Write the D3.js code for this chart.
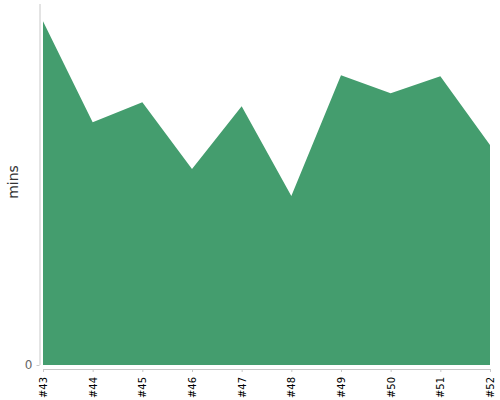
<!DOCTYPE html>
<html>
<head>
<meta charset="utf-8">
<script src="https://cdn.jsdelivr.net/npm/d3@7"></script>
<style>
  body { margin: 0; background: #fff; }
  text { font-family: "DejaVu Sans", sans-serif; }
</style>
</head>
<body>
<div id="chart"></div>
<script>
// Data
const issues = ["#43", "#44", "#45", "#46", "#47", "#48", "#49", "#50", "#51", "#52"];
const mins = [34.4, 24.3, 26.3, 19.6, 25.9, 16.9, 29.0, 27.2, 28.9, 22.0];

const margin = { top: 4, right: 10, bottom: 35, left: 43 };
const width = 500 - margin.left - margin.right;
const height = 400 - margin.top - margin.bottom;

const svg = d3.select("#chart")
  .append("svg")
  .attr("width", 500)
  .attr("height", 400)
  .append("g")
  .attr("transform", `translate(${margin.left},${margin.top})`);

const x = d3.scalePoint().domain(issues).range([0, width]);
const y = d3.scaleLinear().domain([0, d3.max(mins) * 1.05]).range([height, 0]);

// Area
const area = d3.area()
  .x((d, i) => x(issues[i]))
  .y0(y(0))
  .y1(d => y(d));

svg.append("path")
  .datum(mins)
  .attr("fill", "#449d6e")
  .attr("d", area);

// Y axis (offset a bit to the left)
const yAxis = svg.append("g")
  .attr("transform", "translate(-3.5,0)")
  .call(d3.axisLeft(y).tickValues([0]).tickSize(3).tickPadding(4));
yAxis.select(".domain").attr("stroke", "#c8c8c8").attr("d", `M0.5,0V${height}`);
yAxis.selectAll(".tick line").attr("stroke", "#c8c8c8");
yAxis.selectAll(".tick text").attr("fill", "#666").attr("font-size", 12);

// X axis (offset a bit downward)
const xAxis = svg.append("g")
  .attr("transform", `translate(0,${height + 4})`)
  .call(d3.axisBottom(x).tickSize(3).tickSizeOuter(0));
xAxis.select(".domain").attr("stroke", "#c8c8c8");
xAxis.selectAll(".tick line").attr("stroke", "#c8c8c8");
xAxis.selectAll(".tick text")
  .attr("fill", "#000")
  .attr("font-size", 10)
  .attr("transform", "rotate(-90)")
  .attr("text-anchor", "end")
  .attr("x", -8)
  .attr("y", 0)
  .attr("dy", "0.35em");

// Axis title
svg.append("text")
  .attr("transform", `translate(${13 - margin.left},${182 - margin.top}) rotate(-90)`)
  .attr("text-anchor", "middle")
  .attr("dy", "0.35em")
  .attr("fill", "#333")
  .attr("font-size", 14)
  .text("mins");
</script>
</body>
</html>
